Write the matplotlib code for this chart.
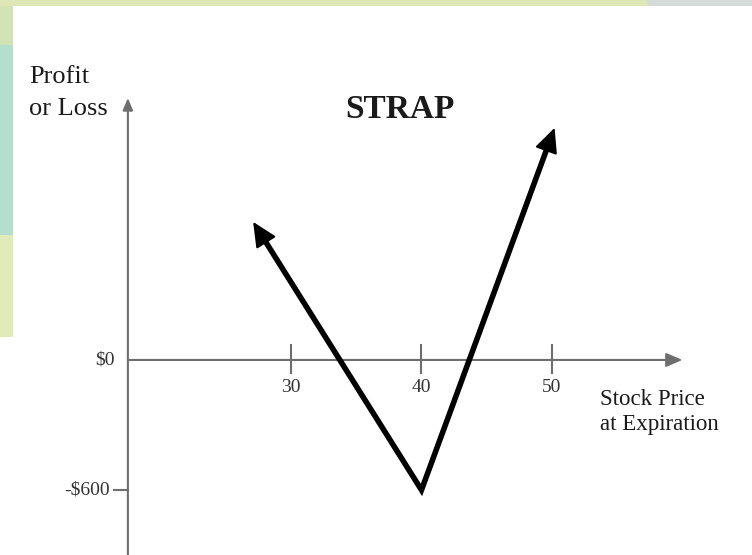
import matplotlib
matplotlib.use("Agg")
import matplotlib.pyplot as plt
from matplotlib.patches import Rectangle
import numpy as np

# payoff of the strap at expiration
price = [27.1, 40.0, 50.2]
pnl = [637, -600, 1071]

x_ticks = [30, 40, 50]
x_tick_labels = ["30", "40", "50"]
y_ticks = [0, -600]
y_tick_labels = ["$0", "-$600"]

title = "STRAP"
y_title = ["Profit", "or Loss"]
x_title = ["Stock Price", "at Expiration"]

plt.rcParams["font.family"] = ["Liberation Serif", "DejaVu Serif"]

W, H = 752, 555
fig = plt.figure(figsize=(W / 100, H / 100), dpi=100)
fig.patch.set_facecolor("white")

# background strips of the slide behind the picture (pixels from top-left)
def strip(x0, y0, w, h, c):
    fig.add_artist(Rectangle((x0 / W, 1 - (y0 + h) / H), w / W, h / H,
                             transform=fig.transFigure, color=c, lw=0, zorder=0))

strip(0, 0, 13, 337, "#e1eab9")
strip(0, 45, 13, 190, "#b4dfcf")
strip(0, 0, 13, 45, "#d2e3b6")
strip(0, 0, 647, 6, "#dde8b6")
strip(647, 0, 105, 6, "#d4dbd9")

ax = fig.add_axes([0, 0, 1, 1])
ax.set_xlim(7.70, 65.33)
ax.set_ylim(-900, 1661)
ax.axis("off")
ax.patch.set_alpha(0)

origin_x = 17.5
axis_col = "#6e6e6e"
txt_col = "#1a1a1a"

# axes drawn as arrows
ax.annotate("", xy=(origin_x, 1209), xytext=(origin_x, -900),
            arrowprops=dict(arrowstyle="-|>,head_length=0.6,head_width=0.25",
                            color=axis_col, lw=1.5, shrinkA=0, shrinkB=0,
                            mutation_scale=12))
ax.annotate("", xy=(60.0, 0), xytext=(origin_x, 0),
            arrowprops=dict(arrowstyle="-|>,head_length=0.7,head_width=0.3",
                            color=axis_col, lw=1.5, shrinkA=0, shrinkB=0,
                            mutation_scale=14))

# ticks
for t, lab in zip(x_ticks, x_tick_labels):
    ax.plot([t, t], [69, -60], color=axis_col, lw=1.5)
    ax.text(t, -129, lab, ha="center", va="center", fontsize=14, color="#333333")
for v, lab in zip(y_ticks, y_tick_labels):
    if v != 0:
        ax.plot([16.4, origin_x], [v, v], color=axis_col, lw=1.5)
        ax.text(16.1, v, lab, ha="right", va="center", fontsize=14, color="#333333")
    else:
        ax.text(16.5, v, lab, ha="right", va="center", fontsize=14, color="#333333")

# payoff line, pulled back from the tips so the arrow heads stay sharp
pts = ax.transData.transform(np.column_stack([price, pnl]))
for i in (0, 2):
    d = pts[i] - pts[1]
    pts[i] = pts[i] - d / np.hypot(*d) * 14
line = ax.transData.inverted().transform(pts)
ax.plot(line[:, 0], line[:, 1], color="black", lw=4, solid_joinstyle="miter",
        solid_capstyle="butt", zorder=3)
for i in (0, 2):
    ax.annotate("", xy=(price[i], pnl[i]), xytext=(price[1], pnl[1]),
                arrowprops=dict(arrowstyle="-|>,head_length=0.85,head_width=0.4",
                                color="black", lw=1.5, shrinkA=0, shrinkB=0,
                                mutation_scale=18), zorder=4)

# texts
ax.text(9.92, 1278, y_title[0], ha="left", va="baseline", fontsize=19, color=txt_col)
ax.text(9.92, 1131, y_title[1], ha="left", va="baseline", fontsize=19, color=txt_col)
ax.text(38.35, 1117, title, ha="center", va="baseline", fontsize=24,
        fontweight="bold", color=txt_col)
ax.text(53.68, -208, x_title[0], ha="left", va="baseline", fontsize=16.5, color=txt_col)
ax.text(53.68, -323, x_title[1], ha="left", va="baseline", fontsize=16.5, color=txt_col)

plt.savefig("out.png", dpi=100)
